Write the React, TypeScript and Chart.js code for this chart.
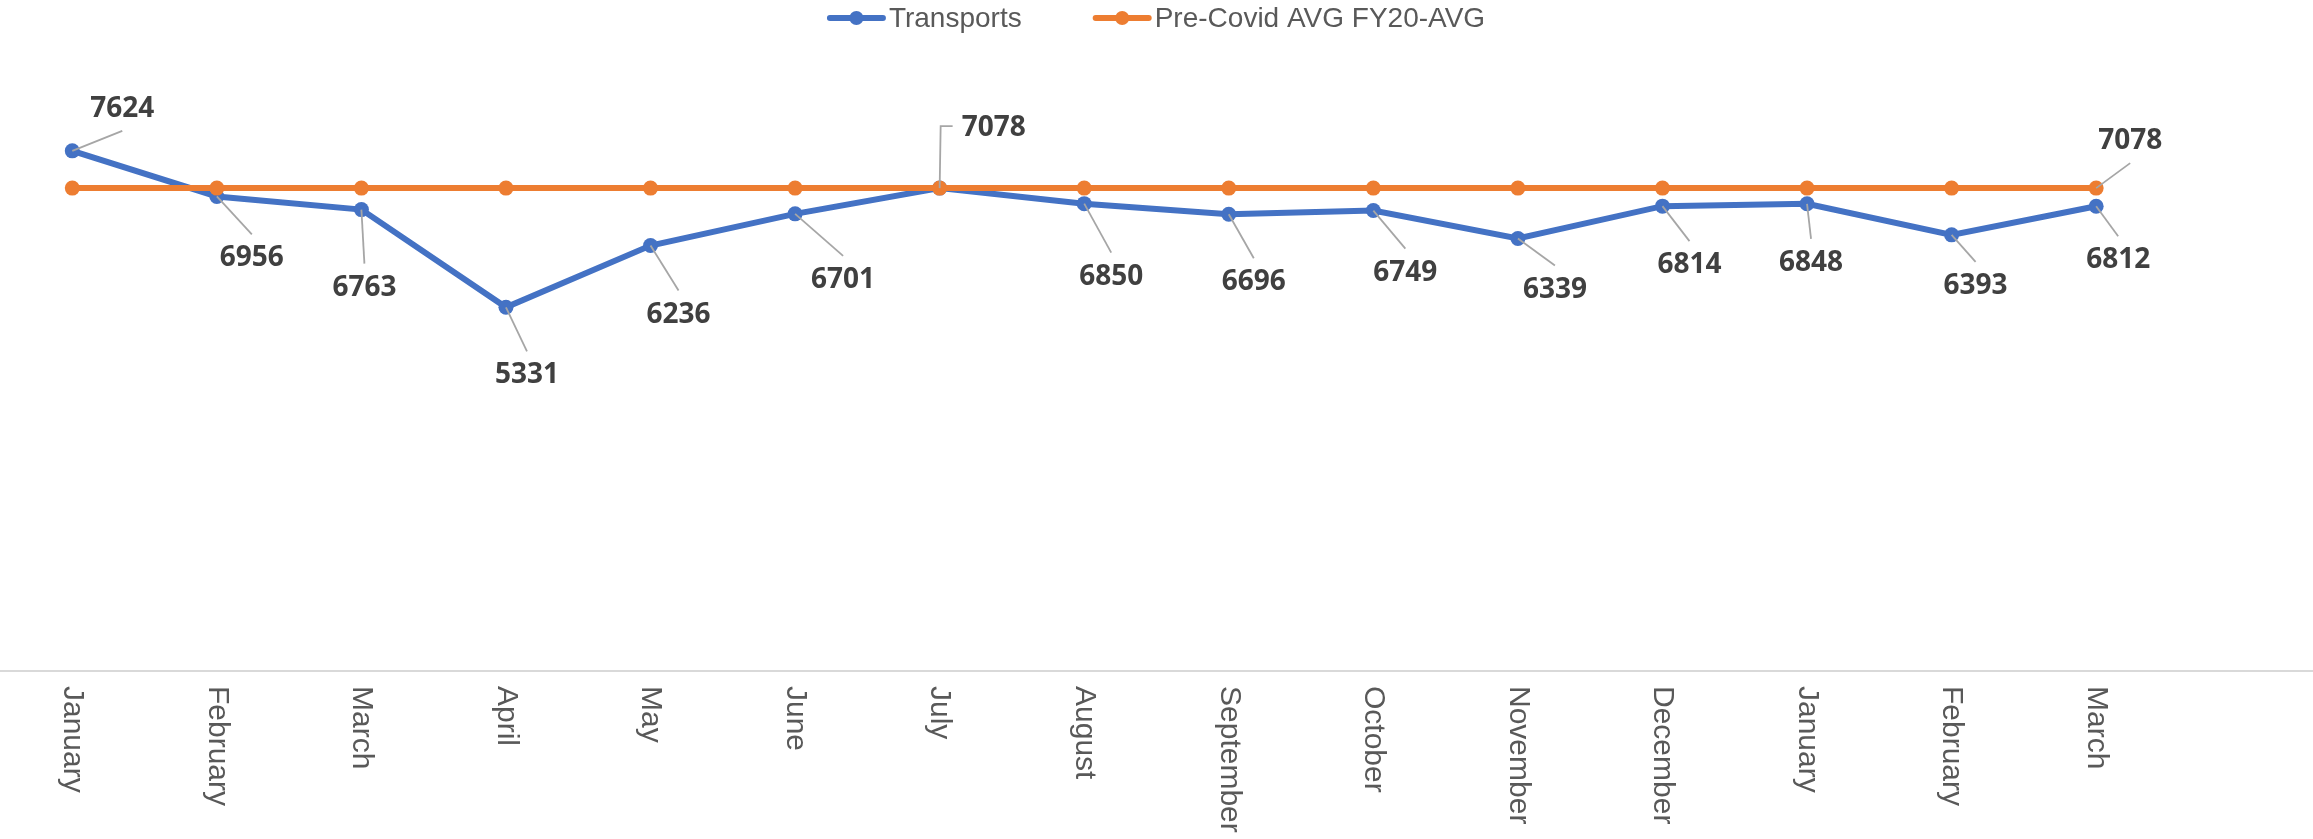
import React, { useEffect, useRef } from "react";
import { Chart, registerables } from "chart.js";

Chart.register(...registerables);

// ---- data ----
const months = [
  "January", "February", "March", "April", "May", "June", "July", "August",
  "September", "October", "November", "December", "January", "February", "March",
];
const transports = [7624, 6956, 6763, 5331, 6236, 6701, 7078, 6850, 6696, 6749, 6339, 6814, 6848, 6393, 6812];
const preCovidAvg = [7078, 7078, 7078, 7078, 7078, 7078, 7078, 7078, 7078, 7078, 7078, 7078, 7078, 7078, 7078];
const seriesNames = ["Transports", "Pre-Covid AVG FY20-AVG"];
const yMin = 0;
const yMax = 9000;

// ---- styling ----
const BLUE = "#4472C4";
const ORANGE = "#ED7D31";
const LABEL_COLOR = "#404040";
const AXIS_TEXT = "#595959";
const LEADER = "#A6A6A6";

// label placement (pixel offsets of label centre from its point) and leader kind
const transportLabelPlacement: [number, number, string][] = [
  [50, -42, "above"],
  [35, 62, "below"],
  [3, 78, "below"],
  [21, 68, "below"],
  [28, 69, "below"],
  [48, 66, "below"],
  [54, -60, "elbow"],
  [27, 73, "below"],
  [25, 68, "below"],
  [32, 62, "below"],
  [37, 51, "below"],
  [27, 59, "below"],
  [4, 59, "below"],
  [24, 51, "below"],
  [22, 54, "below"],
];
const avgLabelIndex = 14;
const avgLabelPlacement: [number, number, string] = [34, -47, "above"];

const LABEL_FONT = "bold 28px 'Open Sans', 'Liberation Sans', sans-serif";
const AXIS_FONT = "30px 'Liberation Sans', Arial, sans-serif";
const LEGEND_FONT = "28px 'Liberation Sans', Arial, sans-serif";

const annotatePlugin = {
  id: "annotate",
  afterDatasetsDraw(chart: any) {
    const ctx: CanvasRenderingContext2D = chart.ctx;
    const drawOne = (px: number, py: number, text: string, place: [number, number, string]) => {
      const [dx, dy, kind] = place;
      const lx = px + dx;
      const ly = py + dy;
      ctx.font = LABEL_FONT;
      const w = ctx.measureText(text).width;
      ctx.save();
      ctx.strokeStyle = LEADER;
      ctx.lineWidth = 1.8;
      ctx.beginPath();
      if (kind === "elbow") {
        ctx.moveTo(px, py);
        ctx.lineTo(px + 1, ly - 2);
        ctx.lineTo(lx - w / 2 - 9, ly - 2);
      } else if (kind === "below") {
        ctx.moveTo(px, py);
        ctx.lineTo(lx, ly - 24);
      } else {
        ctx.moveTo(px, py);
        ctx.lineTo(lx, ly + 22);
      }
      ctx.stroke();
      ctx.restore();
      ctx.save();
      ctx.fillStyle = LABEL_COLOR;
      ctx.textAlign = "center";
      ctx.textBaseline = "middle";
      ctx.font = LABEL_FONT;
      ctx.fillText(text, lx, ly);
      ctx.restore();
    };
    const m0 = chart.getDatasetMeta(0);
    m0.data.forEach((pt: any, i: number) => {
      drawOne(pt.x, pt.y, String(transports[i]), transportLabelPlacement[i]);
    });
    const m1 = chart.getDatasetMeta(1);
    const p = m1.data[avgLabelIndex];
    drawOne(p.x, p.y, String(preCovidAvg[avgLabelIndex]), avgLabelPlacement);
  },
  afterDraw(chart: any) {
    const ctx: CanvasRenderingContext2D = chart.ctx;
    const xs = chart.scales.x;
    // category labels, rotated clockwise
    ctx.save();
    ctx.font = AXIS_FONT;
    ctx.fillStyle = AXIS_TEXT;
    ctx.textAlign = "left";
    ctx.textBaseline = "middle";
    months.forEach((m, i) => {
      const x = xs.getPixelForValue(i);
      ctx.save();
      ctx.translate(x, xs.top + 15);
      ctx.rotate(Math.PI / 2);
      ctx.fillText(m, 0, 0);
      ctx.restore();
    });
    ctx.restore();

    // legend
    ctx.save();
    ctx.font = LEGEND_FONT;
    const colors = [BLUE, ORANGE];
    const markerW = 57;
    const gapText = 4;
    const gapItem = 72;
    const widths = seriesNames.map((n) => ctx.measureText(n).width);
    const total = widths.reduce((a, w) => a + markerW + gapText + w, 0) + gapItem * (seriesNames.length - 1);
    let x = chart.width / 2 - total / 2;
    const y = 18;
    seriesNames.forEach((n, i) => {
      ctx.strokeStyle = colors[i];
      ctx.lineWidth = 6;
      ctx.lineCap = "round";
      ctx.beginPath();
      ctx.moveTo(x + 2, y);
      ctx.lineTo(x + markerW - 2, y);
      ctx.stroke();
      ctx.fillStyle = colors[i];
      ctx.beginPath();
      ctx.arc(x + markerW / 2, y, 7, 0, Math.PI * 2);
      ctx.fill();
      ctx.fillStyle = AXIS_TEXT;
      ctx.textAlign = "left";
      ctx.textBaseline = "middle";
      ctx.fillText(n, x + markerW + gapText, y + 1);
      x += markerW + gapText + widths[i] + gapItem;
    });
    ctx.restore();
  },
};

export default function App() {
  const canvasRef = useRef<HTMLCanvasElement | null>(null);

  useEffect(() => {
    document.body.style.margin = "0";
    document.body.style.overflow = "hidden";
    const canvas = canvasRef.current;
    if (!canvas) return;
    const chart = new Chart(canvas, {
      type: "line",
      data: {
        labels: [...months, ""],
        datasets: [
          {
            label: seriesNames[0],
            data: transports,
            borderColor: BLUE,
            backgroundColor: BLUE,
            borderWidth: 6,
            pointRadius: 7.5,
            pointHoverRadius: 7.5,
            pointBackgroundColor: BLUE,
            pointBorderColor: BLUE,
            pointBorderWidth: 0,
            tension: 0,
            order: 1,
          },
          {
            label: seriesNames[1],
            data: preCovidAvg,
            borderColor: ORANGE,
            backgroundColor: ORANGE,
            borderWidth: 6,
            pointRadius: 7.5,
            pointHoverRadius: 7.5,
            pointBackgroundColor: ORANGE,
            pointBorderColor: ORANGE,
            pointBorderWidth: 0,
            tension: 0,
            order: 0,
          },
        ],
      },
      options: {
        responsive: false,
        animation: false,
        devicePixelRatio: 1,
        layout: { autoPadding: false, padding: { top: 57, bottom: 0, left: 0, right: 0 } },
        plugins: {
          legend: { display: false },
          tooltip: { enabled: false },
          title: { display: false },
        },
        scales: {
          x: {
            type: "category",
            offset: true,
            grid: { display: false },
            border: { display: true, color: "#D9D9D9", width: 2 },
            ticks: { display: false },
            afterFit: (s: any) => {
              s.height = 168;
            },
          },
          y: {
            display: false,
            min: yMin,
            max: yMax,
          },
        },
      },
      plugins: [annotatePlugin],
    });
    return () => chart.destroy();
  }, []);

  return (
    <div style={{ width: 2313, height: 839 }}>
      <canvas ref={canvasRef} width={2313} height={839} style={{ display: "block", width: 2313, height: 839 }} />
    </div>
  );
}
